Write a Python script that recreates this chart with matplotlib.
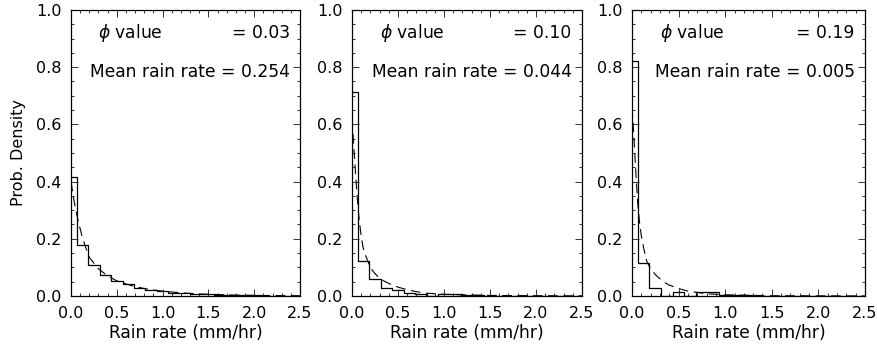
import matplotlib
matplotlib.use("Agg")
import matplotlib.pyplot as plt
from matplotlib.ticker import MultipleLocator, FormatStrFormatter

# ---- data ----
bin_centers = [0.0, 0.125, 0.25, 0.375, 0.5, 0.625, 0.75, 0.875, 1.0, 1.125, 1.25,
               1.375, 1.5, 1.625, 1.75, 1.875, 2.0, 2.125, 2.25, 2.375, 2.5]

hist1 = [0.416, 0.177, 0.107, 0.072, 0.052, 0.041, 0.029, 0.020, 0.016, 0.012, 0.010,
         0.008, 0.006, 0.004, 0.003, 0.002, 0.002, 0.001, 0.001, 0.001, 0.0005]
hist2 = [0.714, 0.122, 0.061, 0.027, 0.020, 0.010, 0.007, 0.001, 0.008, 0.006, 0.003,
         0.002, 0.001, 0.001, 0.001, 0.0005, 0.0005, 0.0005, 0.0005, 0.0005, 0.0]
hist3 = [0.823, 0.114, 0.029, 0.0, 0.013, 0.0, 0.013, 0.013, 0.002, 0.002, 0.002,
         0.001, 0.0, 0.0, 0.0, 0.0, 0.0, 0.0, 0.0, 0.0, 0.0]

fit1_x = [0, 0.04, 0.08, 0.12, 0.16, 0.20, 0.25, 0.30, 0.40, 0.50, 0.60, 0.70, 0.80,
          0.90, 1.0, 1.2, 1.4, 1.6, 1.8, 2.0, 2.5]
fit1_y = [0.40, 0.32, 0.26, 0.21, 0.17, 0.135, 0.115, 0.095, 0.07, 0.053, 0.042, 0.033,
          0.026, 0.021, 0.017, 0.011, 0.007, 0.005, 0.003, 0.002, 0.001]
fit2_x = [0, 0.02, 0.04, 0.06, 0.08, 0.10, 0.12, 0.15, 0.18, 0.22, 0.26, 0.30, 0.35,
          0.40, 0.50, 0.60, 0.70, 0.80, 1.0, 1.2, 1.5, 2.0, 2.5]
fit2_y = [0.62, 0.52, 0.42, 0.33, 0.26, 0.21, 0.17, 0.14, 0.115, 0.09, 0.075, 0.062,
          0.052, 0.044, 0.031, 0.022, 0.015, 0.01, 0.006, 0.004, 0.002, 0.001, 0.0005]
fit3_x = [0, 0.02, 0.04, 0.06, 0.08, 0.10, 0.13, 0.16, 0.20, 0.25, 0.30, 0.35, 0.40,
          0.50, 0.60, 0.80, 1.0, 1.5, 2.0, 2.5]
fit3_y = [0.66, 0.56, 0.44, 0.33, 0.26, 0.21, 0.16, 0.12, 0.095, 0.075, 0.06, 0.047,
          0.038, 0.026, 0.017, 0.008, 0.004, 0.001, 0.0005, 0.0002]

phi_values = ["0.03", "0.10", "0.19"]
mean_rates = ["0.254", "0.044", "0.005"]
x_label = "Rain rate (mm/hr)"
y_label = "Prob. Density"

hists = [hist1, hist2, hist3]
fits = [(fit1_x, fit1_y), (fit2_x, fit2_y), (fit3_x, fit3_y)]

# ---- figure ----
plt.rcParams['font.family'] = ['DejaVu Sans']
plt.rcParams['lines.scale_dashes'] = False
W, H = 878, 348
fig = plt.figure(figsize=(W / 100, H / 100), dpi=100)

panels = [(71, 300), (352, 582), (632, 865)]
top_px, bot_px = 10, 296
fs_tick = 11.5
fs_text = 12.3

for i, (l, r) in enumerate(panels):
    ax = fig.add_axes([l / W, 1 - bot_px / H, (r - l) / W, (bot_px - top_px) / H])
    ax.step(bin_centers, hists[i], where='mid', color='black', lw=0.9)
    fx, fy = fits[i]
    ax.plot(fx, fy, color='black', lw=0.8, dashes=(7, 4))
    ax.set_xlim(0, 2.5)
    ax.set_ylim(0, 1.0)
    ax.xaxis.set_major_locator(MultipleLocator(0.5))
    ax.xaxis.set_minor_locator(MultipleLocator(0.1))
    ax.yaxis.set_major_locator(MultipleLocator(0.2))
    ax.yaxis.set_minor_locator(MultipleLocator(0.05))
    ax.xaxis.set_major_formatter(FormatStrFormatter('%.1f'))
    ax.yaxis.set_major_formatter(FormatStrFormatter('%.1f'))
    ax.tick_params(which='both', direction='in', top=True, right=True,
                   labelsize=fs_tick, width=0.7, color='#333333')
    ax.tick_params(which='major', length=5, pad=7)
    ax.tick_params(which='minor', length=2.5)
    for s in ax.spines.values():
        s.set_linewidth(0.9)
    ax.set_xlabel(x_label, fontsize=fs_text, labelpad=2)
    if i == 0:
        ax.set_ylabel(y_label, fontsize=11.5, labelpad=7)
    ax.text(0.12, 0.92, r"$\phi$ value", transform=ax.transAxes, fontsize=fs_text,
            ha='left', va='center')
    ax.text(0.955, 0.92, "= " + phi_values[i], transform=ax.transAxes, fontsize=fs_text,
            ha='right', va='center')
    ax.text(0.955, 0.783, "Mean rain rate = " + mean_rates[i], transform=ax.transAxes,
            fontsize=fs_text, ha='right', va='center')

fig.savefig("out.png", dpi=100)
